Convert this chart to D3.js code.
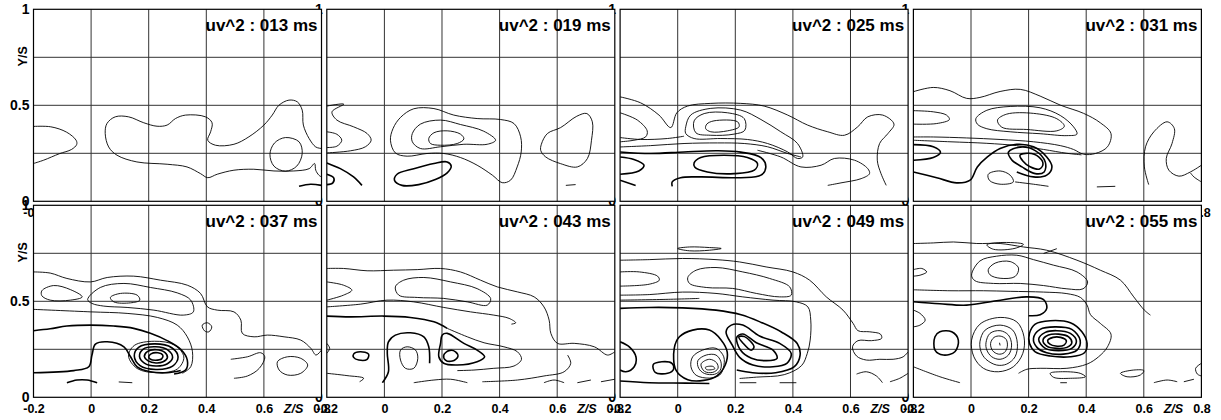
<!DOCTYPE html>
<html>
<head>
<meta charset="utf-8">
<script src="https://cdn.jsdelivr.net/npm/d3@7"></script>
<style>
  body { margin: 0; background: #fff; }
  svg { display: block; }
</style>
</head>
<body>
<svg id="chart" width="1221" height="420"></svg>
<script>
// Snapshot times (ms) of the uv^2 fields, in panel order
const times = ["013", "019", "025", "031", "037", "043", "049", "055"];
const xTicks = [-0.2, 0, 0.2, 0.4, 0.6, 0.8];
const yTicks = [0, 0.5, 1];
const xGrid = [0, 0.2, 0.4, 0.6];
const yGrid = [0.25, 0.5, 0.75];

// Contour lines of each snapshot in (Z/S, Y/S).
// k: "n" = lower iso-level, "s" = higher iso-level; c: 1 = closed loop
const c013 = [
  {k:"n",c:0,p:[[-0.2,0.39],[-0.14,0.388],[-0.085,0.36],[-0.052,0.318],[-0.05,0.296],[-0.068,0.27],[-0.11,0.248],[-0.165,0.214],[-0.2,0.197]]},
  {k:"n",c:0,p:[[0.8,0.275],[0.78,0.283],[0.757,0.327],[0.737,0.397],[0.733,0.475],[0.716,0.518],[0.687,0.527],[0.652,0.5],[0.629,0.449],[0.6,0.397],[0.548,0.336],[0.496,0.297],[0.432,0.292],[0.405,0.318],[0.415,0.362],[0.42,0.409],[0.397,0.44],[0.328,0.449],[0.293,0.431],[0.264,0.397],[0.229,0.391],[0.183,0.409],[0.13,0.44],[0.084,0.44],[0.055,0.405],[0.049,0.353],[0.061,0.283],[0.09,0.24],[0.159,0.205],[0.264,0.193],[0.333,0.179],[0.38,0.144],[0.405,0.123],[0.438,0.141],[0.496,0.162],[0.565,0.167],[0.635,0.158],[0.704,0.158],[0.757,0.17],[0.776,0.197],[0.78,0.162],[0.791,0.136],[0.8,0.127]]},
  {k:"n",c:1,p:[[0.675,0.332],[0.722,0.31],[0.733,0.249],[0.714,0.183],[0.675,0.157],[0.635,0.183],[0.621,0.245],[0.637,0.304]]},
  {k:"s",c:0,p:[[0.722,0.078],[0.762,0.089],[0.8,0.083]]}
];
const c019 = [
  {k:"n",c:0,p:[[-0.2,0.496],[-0.141,0.506],[-0.182,0.466],[-0.165,0.423],[-0.107,0.388],[-0.06,0.353],[-0.046,0.318],[-0.066,0.284],[-0.118,0.263],[-0.2,0.252]]},
  {k:"n",c:0,p:[[-0.2,0.362],[-0.165,0.349],[-0.148,0.318],[-0.165,0.287],[-0.2,0.28]]},
  {k:"s",c:0,p:[[-0.2,0.2],[-0.153,0.17],[-0.107,0.127],[-0.078,0.083]]},
  {k:"s",c:0,p:[[-0.2,0.141],[-0.176,0.122],[-0.179,0.096],[-0.2,0.087]]},
  {k:"n",c:1,p:[[0.021,0.318],[0.03,0.379],[0.056,0.437],[0.102,0.482],[0.172,0.483],[0.241,0.449],[0.322,0.431],[0.403,0.426],[0.45,0.405],[0.473,0.336],[0.475,0.257],[0.461,0.179],[0.438,0.11],[0.409,0.097],[0.375,0.136],[0.322,0.188],[0.264,0.228],[0.206,0.249],[0.148,0.249],[0.079,0.235],[0.038,0.252]]},
  {k:"n",c:1,p:[[0.097,0.353],[0.125,0.402],[0.195,0.423],[0.264,0.4],[0.345,0.365],[0.386,0.318],[0.357,0.297],[0.276,0.297],[0.195,0.284],[0.125,0.275],[0.097,0.31]]},
  {k:"n",c:1,p:[[0.154,0.327],[0.172,0.357],[0.218,0.367],[0.264,0.35],[0.276,0.325],[0.253,0.301],[0.195,0.292],[0.16,0.301]]},
  {k:"n",c:1,p:[[0.545,0.297],[0.566,0.353],[0.612,0.384],[0.668,0.443],[0.703,0.457],[0.722,0.414],[0.719,0.318],[0.705,0.223],[0.67,0.179],[0.612,0.196],[0.56,0.231],[0.543,0.264]]},
  {k:"s",c:1,p:[[0.035,0.11],[0.044,0.141],[0.102,0.17],[0.172,0.197],[0.218,0.205],[0.232,0.183],[0.218,0.148],[0.177,0.113],[0.119,0.087],[0.061,0.083]]},
  {k:"n",c:0,p:[[0.63,0.083],[0.664,0.087]]}
];
const c025 = [
  {k:"n",c:0,p:[[-0.2,0.544],[-0.129,0.513],[-0.065,0.449],[-0.024,0.384],[-0.003,0.461],[0.034,0.496],[0.115,0.51],[0.219,0.51],[0.3,0.496],[0.382,0.449],[0.451,0.397],[0.521,0.362],[0.579,0.344],[0.625,0.388],[0.66,0.44],[0.712,0.449],[0.751,0.402],[0.73,0.353],[0.701,0.301],[0.693,0.214],[0.706,0.144],[0.724,0.083]]},
  {k:"n",c:0,p:[[0.277,0.266],[0.358,0.231],[0.428,0.179],[0.498,0.188],[0.544,0.223],[0.614,0.214],[0.66,0.17],[0.666,0.144],[0.637,0.118],[0.567,0.096],[0.521,0.083]]},
  {k:"n",c:0,p:[[-0.2,0.461],[-0.14,0.423],[-0.106,0.367],[-0.111,0.336],[-0.152,0.318],[-0.2,0.31]]},
  {k:"n",c:1,p:[[0.028,0.388],[0.045,0.449],[0.115,0.484],[0.219,0.475],[0.289,0.426],[0.358,0.362],[0.416,0.301],[0.434,0.231],[0.416,0.223],[0.382,0.257],[0.312,0.301],[0.242,0.322],[0.15,0.327],[0.057,0.327],[0.028,0.353]]},
  {k:"n",c:1,p:[[0.057,0.419],[0.092,0.457],[0.173,0.461],[0.231,0.431],[0.233,0.37],[0.196,0.35],[0.115,0.344],[0.063,0.357]]},
  {k:"n",c:1,p:[[0.101,0.402],[0.126,0.419],[0.208,0.414],[0.213,0.388],[0.173,0.367],[0.115,0.362],[0.097,0.379]]},
  {k:"n",c:0,p:[[-0.2,0.283],[-0.094,0.29],[0.022,0.301],[0.138,0.304],[0.231,0.301],[0.312,0.284],[0.382,0.249],[0.428,0.231]]},
  {k:"n",c:0,p:[[-0.2,0.332],[-0.129,0.322],[-0.036,0.327],[0.022,0.339]]},
  {k:"s",c:0,p:[[-0.2,0.257],[-0.094,0.249],[0.022,0.257],[0.138,0.263],[0.219,0.256],[0.289,0.228],[0.306,0.179],[0.289,0.136],[0.219,0.123],[0.08,0.127],[0.01,0.123],[-0.019,0.101],[-0.019,0.078]]},
  {k:"s",c:1,p:[[0.057,0.2],[0.08,0.228],[0.161,0.24],[0.242,0.228],[0.277,0.197],[0.266,0.162],[0.196,0.144],[0.103,0.153],[0.059,0.179]]},
  {k:"s",c:0,p:[[-0.2,0.231],[-0.152,0.218],[-0.117,0.188],[-0.135,0.158],[-0.2,0.141]]},
  {k:"s",c:0,p:[[-0.2,0.11],[-0.146,0.082]]}
];
const c031 = [
  {k:"n",c:0,p:[[-0.2,0.571],[-0.131,0.593],[-0.073,0.576],[-0.015,0.536],[0.031,0.541],[0.101,0.572],[0.171,0.583],[0.24,0.548],[0.31,0.501],[0.391,0.458],[0.449,0.409],[0.486,0.353],[0.474,0.284],[0.432,0.249],[0.391,0.245],[0.356,0.27],[0.31,0.29],[0.217,0.31],[0.101,0.322],[-0.015,0.33],[-0.131,0.335],[-0.2,0.335]]},
  {k:"n",c:1,p:[[0.017,0.431],[0.055,0.474],[0.136,0.494],[0.24,0.487],[0.31,0.447],[0.356,0.388],[0.368,0.35],[0.333,0.342],[0.24,0.352],[0.136,0.362],[0.055,0.378],[0.022,0.402]]},
  {k:"n",c:1,p:[[0.092,0.423],[0.124,0.454],[0.217,0.458],[0.298,0.43],[0.324,0.391],[0.298,0.367],[0.194,0.374],[0.107,0.386]]},
  {k:"n",c:0,p:[[-0.2,0.472],[-0.131,0.466],[-0.085,0.449],[-0.075,0.426],[-0.119,0.405],[-0.2,0.402]]},
  {k:"n",c:0,p:[[-0.2,0.318],[-0.073,0.31],[0.055,0.302],[0.159,0.29],[0.252,0.27],[0.333,0.25],[0.384,0.242]]},
  {k:"s",c:0,p:[[-0.2,0.295],[-0.131,0.284],[-0.106,0.255],[-0.131,0.228],[-0.2,0.214]]},
  {k:"s",c:0,p:[[-0.2,0.153],[-0.119,0.123],[-0.05,0.096],[-0.003,0.11],[0.022,0.179],[0.057,0.231],[0.101,0.275],[0.159,0.297],[0.217,0.284],[0.263,0.231],[0.281,0.179],[0.263,0.136],[0.217,0.127],[0.159,0.153]]},
  {k:"s",c:1,p:[[0.13,0.256],[0.171,0.282],[0.223,0.264],[0.258,0.204],[0.254,0.153],[0.223,0.144],[0.177,0.179],[0.141,0.217]]},
  {k:"s",c:1,p:[[0.17,0.24],[0.2,0.25],[0.235,0.232],[0.25,0.195],[0.238,0.168],[0.205,0.18],[0.18,0.21]]},
  {k:"n",c:1,p:[[0.06,0.141],[0.101,0.158],[0.136,0.136],[0.147,0.101],[0.101,0.089],[0.064,0.109]]},
  {k:"n",c:0,p:[[0.153,0.101],[0.217,0.089],[0.269,0.078]]},
  {k:"n",c:0,p:[[0.437,0.075],[0.501,0.078]]},
  {k:"n",c:0,p:[[0.617,0.087],[0.602,0.179],[0.606,0.284],[0.635,0.362],[0.681,0.414],[0.706,0.379],[0.698,0.301],[0.678,0.223],[0.687,0.162],[0.722,0.131],[0.762,0.153],[0.8,0.188]]},
  {k:"n",c:0,p:[[0.8,0.101],[0.774,0.127],[0.762,0.148]]}
];
const c037 = [
  {k:"n",c:0,p:[[-0.2,0.653],[-0.142,0.647],[-0.084,0.619],[-0.002,0.601],[0.056,0.624],[0.148,0.631],[0.241,0.61],[0.334,0.584],[0.38,0.541],[0.404,0.471],[0.438,0.454],[0.496,0.445],[0.52,0.402],[0.525,0.333],[0.566,0.315],[0.612,0.324],[0.67,0.315],[0.728,0.298],[0.763,0.255],[0.781,0.22],[0.8,0.246]]},
  {k:"n",c:1,p:[[-0.171,0.555],[-0.13,0.582],[-0.072,0.561],[-0.031,0.523],[-0.072,0.506],[-0.142,0.506],[-0.171,0.529]]},
  {k:"n",c:1,p:[[0.067,0.52],[0.102,0.541],[0.16,0.532],[0.169,0.506],[0.137,0.492],[0.079,0.497]]},
  {k:"n",c:1,p:[[-0.012,0.509],[0.032,0.572],[0.114,0.593],[0.206,0.572],[0.299,0.544],[0.346,0.506],[0.355,0.445],[0.32,0.428],[0.218,0.454],[0.125,0.468],[0.044,0.475],[0.003,0.489]]},
  {k:"n",c:0,p:[[-0.2,0.458],[-0.002,0.445],[0.125,0.437],[0.23,0.416],[0.299,0.376],[0.334,0.315],[0.352,0.237],[0.346,0.159],[0.317,0.125]]},
  {k:"s",c:0,p:[[-0.2,0.347],[-0.142,0.357],[-0.084,0.371],[-0.002,0.376],[0.079,0.371],[0.148,0.359],[0.206,0.333],[0.264,0.295],[0.311,0.25],[0.334,0.194],[0.328,0.142],[0.288,0.121]]},
  {k:"s",c:0,p:[[-0.2,0.128],[-0.06,0.139],[-0.008,0.159],[0.003,0.22],[0.015,0.277],[0.056,0.289],[0.114,0.263],[0.137,0.211],[0.16,0.159],[0.206,0.133],[0.264,0.128],[0.311,0.14]]},
  {k:"n",c:1,p:[[0.13,0.215],[0.15,0.27],[0.22,0.292],[0.29,0.272],[0.322,0.21],[0.3,0.148],[0.23,0.128],[0.16,0.15]]},
  {k:"s",c:1,p:[[0.15,0.215],[0.165,0.26],[0.222,0.278],[0.28,0.258],[0.302,0.21],[0.283,0.162],[0.225,0.145],[0.17,0.165]]},
  {k:"s",c:1,p:[[0.168,0.213],[0.18,0.25],[0.224,0.263],[0.267,0.246],[0.283,0.208],[0.265,0.175],[0.225,0.163],[0.185,0.178]]},
  {k:"s",c:1,p:[[0.185,0.212],[0.195,0.238],[0.226,0.248],[0.256,0.234],[0.265,0.207],[0.25,0.185],[0.225,0.179],[0.198,0.19]]},
  {k:"s",c:1,p:[[0.2,0.21],[0.208,0.226],[0.232,0.232],[0.249,0.219],[0.245,0.2],[0.224,0.193],[0.206,0.198]]},
  {k:"n",c:1,p:[[0.386,0.376],[0.404,0.388],[0.419,0.367],[0.409,0.341],[0.394,0.346]]},
  {k:"n",c:1,p:[[0.647,0.185],[0.682,0.211],[0.728,0.203],[0.752,0.168],[0.728,0.125],[0.682,0.116],[0.653,0.142]]},
  {k:"n",c:0,p:[[0.485,0.198],[0.543,0.211],[0.589,0.232],[0.603,0.211],[0.584,0.151],[0.543,0.111],[0.496,0.099]]},
  {k:"s",c:0,p:[[-0.084,0.076],[-0.049,0.09],[-0.014,0.09],[0.021,0.076]]},
  {k:"n",c:0,p:[[0.096,0.08],[0.143,0.076]]}
];
const c043 = [
  {k:"n",c:0,p:[[-0.2,0.671],[-0.142,0.671],[-0.06,0.659],[0.032,0.662],[0.114,0.665],[0.195,0.671],[0.264,0.653],[0.334,0.61],[0.392,0.575],[0.462,0.549],[0.52,0.523],[0.554,0.471],[0.572,0.402],[0.578,0.333],[0.601,0.281],[0.659,0.281],[0.729,0.263],[0.775,0.22],[0.8,0.237]]},
  {k:"n",c:0,p:[[-0.2,0.601],[-0.142,0.584],[-0.113,0.558],[-0.142,0.532],[-0.2,0.506]]},
  {k:"n",c:1,p:[[0.038,0.575],[0.067,0.61],[0.137,0.624],[0.23,0.601],[0.322,0.566],[0.369,0.514],[0.357,0.48],[0.288,0.497],[0.206,0.515],[0.114,0.52],[0.05,0.532]]},
  {k:"n",c:0,p:[[-0.2,0.471],[-0.084,0.485],[0.009,0.506],[0.102,0.497],[0.206,0.468],[0.299,0.445],[0.38,0.428],[0.433,0.411],[0.456,0.388],[0.441,0.381]]},
  {k:"s",c:0,p:[[-0.2,0.423],[-0.118,0.419],[-0.002,0.423],[0.09,0.416],[0.172,0.393],[0.218,0.359]]},
  {k:"n",c:0,p:[[0.218,0.359],[0.288,0.315],[0.346,0.284],[0.415,0.263],[0.462,0.237],[0.476,0.198],[0.45,0.163],[0.38,0.151],[0.311,0.142],[0.253,0.139]]},
  {k:"s",c:0,p:[[-0.007,0.076],[0.014,0.133],[0.01,0.229],[0.014,0.289],[0.038,0.324],[0.09,0.336],[0.137,0.315],[0.154,0.263],[0.157,0.177]]},
  {k:"s",c:1,p:[[0.201,0.324],[0.218,0.333],[0.276,0.281],[0.322,0.246],[0.348,0.211],[0.322,0.185],[0.253,0.168],[0.206,0.177],[0.189,0.211],[0.195,0.281]]},
  {k:"s",c:1,p:[[0.206,0.219],[0.224,0.243],[0.247,0.237],[0.255,0.211],[0.236,0.189],[0.212,0.194]]},
  {k:"s",c:1,p:[[-0.107,0.225],[-0.084,0.237],[-0.055,0.225],[-0.06,0.198],[-0.089,0.194],[-0.107,0.208]]},
  {k:"n",c:1,p:[[0.056,0.246],[0.079,0.263],[0.108,0.246],[0.116,0.203],[0.102,0.151],[0.073,0.151],[0.056,0.194]]},
  {k:"n",c:0,p:[[-0.2,0.281],[-0.19,0.255],[-0.2,0.229]]},
  {k:"n",c:0,p:[[-0.2,0.125],[-0.13,0.113],[-0.072,0.099],[-0.086,0.081]]},
  {k:"n",c:0,p:[[0.102,0.076],[0.172,0.09],[0.23,0.094],[0.288,0.076]]},
  {k:"n",c:0,p:[[0.34,0.081],[0.462,0.09],[0.554,0.111],[0.624,0.133],[0.647,0.177],[0.636,0.22]]},
  {k:"n",c:0,p:[[0.554,0.076],[0.589,0.09],[0.624,0.076]]},
  {k:"n",c:0,p:[[0.67,0.076],[0.717,0.09]]},
  {k:"n",c:0,p:[[0.752,0.081],[0.8,0.094]]}
];
const c049 = [
  {k:"n",c:1,p:[[0,0.775],[0.041,0.783],[0.11,0.78],[0.151,0.775],[0.11,0.766],[0.041,0.763]]},
  {k:"n",c:0,p:[[-0.2,0.714],[-0.099,0.717],[0.017,0.723],[0.133,0.717],[0.215,0.705],[0.307,0.679],[0.4,0.653],[0.458,0.61],[0.516,0.523],[0.574,0.454],[0.609,0.385],[0.626,0.347],[0.667,0.341],[0.704,0.329],[0.708,0.307],[0.673,0.295],[0.626,0.295],[0.607,0.263],[0.621,0.215],[0.655,0.194],[0.702,0.198],[0.748,0.198],[0.783,0.211],[0.8,0.237]]},
  {k:"n",c:0,p:[[-0.2,0.653],[-0.133,0.653],[-0.07,0.631],[-0.064,0.61],[-0.099,0.589],[-0.2,0.579]]},
  {k:"n",c:1,p:[[0.035,0.624],[0.064,0.662],[0.133,0.676],[0.226,0.653],[0.319,0.619],[0.389,0.575],[0.394,0.532],[0.354,0.523],[0.273,0.541],[0.191,0.567],[0.099,0.572],[0.041,0.593]]},
  {k:"n",c:0,p:[[-0.2,0.532],[-0.099,0.535],[0.017,0.548],[0.133,0.541],[0.226,0.523],[0.331,0.506],[0.412,0.497],[0.452,0.471],[0.462,0.402],[0.46,0.298],[0.45,0.229],[0.43,0.165],[0.37,0.118],[0.273,0.105],[0.215,0.098]]},
  {k:"n",c:0,p:[[-0.2,0.506],[-0.041,0.51],[0.075,0.515]]},
  {k:"s",c:0,p:[[-0.2,0.463],[-0.099,0.468],[0.017,0.466],[0.133,0.454],[0.22,0.43],[0.29,0.39],[0.36,0.34],[0.415,0.28],[0.425,0.22],[0.405,0.16],[0.34,0.128],[0.26,0.128],[0.205,0.142]]},
  {k:"s",c:1,p:[[0.168,0.341],[0.186,0.376],[0.226,0.376],[0.284,0.319],[0.354,0.281],[0.394,0.229],[0.379,0.177],[0.331,0.159],[0.261,0.168],[0.215,0.208],[0.19,0.27]]},
  {k:"s",c:1,p:[[0.205,0.312],[0.226,0.33],[0.273,0.284],[0.331,0.246],[0.345,0.203],[0.308,0.191],[0.256,0.203],[0.218,0.246]]},
  {k:"s",c:1,p:[[0.212,0.315],[0.232,0.316],[0.265,0.263],[0.255,0.245],[0.228,0.28]]},
  {k:"s",c:1,p:[[-0.012,0.255],[0.006,0.315],[0.052,0.35],[0.11,0.35],[0.15,0.3],[0.172,0.235],[0.165,0.168],[0.135,0.11],[0.09,0.088],[0.035,0.092],[-0.006,0.142]]},
  {k:"n",c:1,p:[[0.052,0.211],[0.087,0.246],[0.133,0.255],[0.16,0.211],[0.158,0.151],[0.145,0.115],[0.11,0.1],[0.064,0.115],[0.046,0.159]]},
  {k:"n",c:1,p:[[0.07,0.191],[0.099,0.22],[0.133,0.22],[0.15,0.185],[0.148,0.142],[0.128,0.12],[0.093,0.124],[0.073,0.151]]},
  {k:"n",c:1,p:[[0.081,0.173],[0.11,0.198],[0.135,0.18],[0.14,0.151],[0.122,0.13],[0.093,0.135]]},
  {k:"n",c:1,p:[[0.096,0.156],[0.122,0.161],[0.129,0.149],[0.101,0.144]]},
  {k:"s",c:0,p:[[-0.2,0.289],[-0.168,0.263],[-0.145,0.211],[-0.151,0.159],[-0.18,0.133],[-0.2,0.142]]},
  {k:"s",c:1,p:[[-0.085,0.17],[-0.055,0.185],[-0.02,0.177],[-0.014,0.148],[-0.035,0.125],[-0.078,0.13]]},
  {k:"s",c:0,p:[[-0.2,0.085],[-0.099,0.076],[0.029,0.074],[0.11,0.072]]},
  {k:"n",c:0,p:[[0.215,0.076],[0.273,0.076]]},
  {k:"n",c:0,p:[[0.354,0.076],[0.412,0.076]]},
  {k:"n",c:0,p:[[0.621,0.121],[0.655,0.133],[0.69,0.111],[0.711,0.076]]},
  {k:"n",c:0,p:[[0.737,0.081],[0.771,0.099],[0.8,0.125]]}
];
const c055 = [
  {k:"n",c:0,p:[[-0.2,0.801],[-0.131,0.804],[-0.061,0.809],[0.02,0.801],[0.101,0.801],[0.182,0.783],[0.263,0.766],[0.368,0.714],[0.449,0.662],[0.519,0.61],[0.565,0.523],[0.602,0.454],[0.623,0.428]]},
  {k:"n",c:1,p:[[0.055,0.794],[0.101,0.806],[0.182,0.797],[0.153,0.776],[0.078,0.771]]},
  {k:"n",c:0,p:[[0.252,0.749],[0.298,0.774]]},
  {k:"n",c:0,p:[[-0.2,0.665],[-0.171,0.671],[-0.154,0.653],[-0.177,0.636],[-0.2,0.631]]},
  {k:"n",c:1,p:[[0.002,0.636],[0.031,0.71],[0.089,0.735],[0.159,0.74],[0.217,0.717],[0.287,0.688],[0.368,0.653],[0.405,0.601],[0.389,0.565],[0.333,0.565],[0.252,0.582],[0.171,0.593],[0.078,0.593],[0.014,0.607]]},
  {k:"n",c:1,p:[[0.06,0.665],[0.084,0.699],[0.136,0.707],[0.165,0.673],[0.153,0.629],[0.101,0.62],[0.066,0.638]]},
  {k:"n",c:0,p:[[-0.2,0.56],[-0.073,0.555],[0.043,0.555],[0.136,0.552],[0.252,0.548],[0.333,0.54],[0.38,0.52],[0.403,0.48],[0.415,0.43],[0.449,0.385],[0.486,0.329],[0.474,0.263],[0.443,0.211],[0.403,0.173],[0.333,0.151],[0.24,0.151],[0.194,0.146],[0.165,0.125]]},
  {k:"s",c:0,p:[[-0.2,0.498],[-0.108,0.487],[-0.015,0.48],[0.089,0.503],[0.194,0.523],[0.252,0.509],[0.263,0.463],[0.24,0.43],[0.2,0.425]]},
  {k:"n",c:0,p:[[-0.2,0.454],[-0.177,0.437],[-0.159,0.402],[-0.177,0.376],[-0.2,0.367]]},
  {k:"s",c:1,p:[[-0.125,0.315],[-0.108,0.341],[-0.067,0.341],[-0.044,0.298],[-0.056,0.237],[-0.096,0.22],[-0.125,0.246]]},
  {k:"n",c:1,p:[[0.002,0.298],[0.031,0.381],[0.101,0.416],[0.159,0.393],[0.184,0.315],[0.18,0.229],[0.147,0.159],[0.095,0.133],[0.043,0.151],[0.01,0.211]]},
  {k:"n",c:1,p:[[0.031,0.289],[0.049,0.35],[0.101,0.376],[0.145,0.35],[0.161,0.281],[0.153,0.211],[0.124,0.173],[0.089,0.168],[0.052,0.198],[0.035,0.237]]},
  {k:"n",c:1,p:[[0.052,0.284],[0.066,0.333],[0.101,0.347],[0.13,0.324],[0.141,0.272],[0.13,0.22],[0.101,0.198],[0.072,0.211],[0.055,0.246]]},
  {k:"n",c:1,p:[[0.068,0.281],[0.08,0.312],[0.101,0.319],[0.122,0.302],[0.126,0.263],[0.115,0.232],[0.095,0.225],[0.075,0.243]]},
  {k:"n",c:0,p:[[0.099,0.284],[0.101,0.27]]},
  {k:"s",c:1,p:[[0.203,0.333],[0.223,0.381],[0.275,0.399],[0.345,0.388],[0.385,0.341],[0.403,0.281],[0.394,0.232],[0.345,0.211],[0.275,0.215],[0.223,0.237],[0.203,0.281]]},
  {k:"s",c:1,p:[[0.217,0.307],[0.24,0.354],[0.292,0.367],[0.35,0.354],[0.379,0.298],[0.368,0.246],[0.321,0.225],[0.263,0.232],[0.229,0.26]]},
  {k:"s",c:1,p:[[0.235,0.302],[0.258,0.338],[0.298,0.347],[0.345,0.333],[0.366,0.293],[0.35,0.255],[0.304,0.243],[0.258,0.255]]},
  {k:"s",c:1,p:[[0.25,0.298],[0.269,0.324],[0.304,0.329],[0.339,0.315],[0.35,0.284],[0.333,0.26],[0.298,0.255],[0.263,0.267]]},
  {k:"s",c:1,p:[[0.266,0.295],[0.285,0.312],[0.311,0.312],[0.331,0.295],[0.323,0.272],[0.294,0.267],[0.274,0.277]]},
  {k:"n",c:0,p:[[-0.2,0.159],[-0.108,0.107],[-0.038,0.076]]},
  {k:"n",c:1,p:[[0.275,0.125],[0.31,0.133],[0.379,0.125],[0.397,0.107],[0.345,0.099],[0.287,0.104]]},
  {k:"n",c:1,p:[[0.519,0.125],[0.565,0.142],[0.6,0.139],[0.588,0.116],[0.542,0.107]]},
  {k:"n",c:0,p:[[0.8,0.177],[0.78,0.151],[0.786,0.121],[0.8,0.111]]},
  {k:"n",c:0,p:[[0.635,0.076],[0.681,0.09],[0.716,0.081]]},
  {k:"n",c:0,p:[[0.739,0.081],[0.774,0.094]]},
  {k:"n",c:0,p:[[0.31,0.076],[0.333,0.076]]}
];
const contourSets = [c013, c019, c025, c031, c037, c043, c049, c055];

const FONT = "'Liberation Sans', Arial, Helvetica, sans-serif";
const W = 288, H = 192;                  // plot box of one panel
const originX = 33.5, colStep = 293.3;   // panel placement
const rowTop = [9.3, 205.3];

const x = d3.scaleLinear().domain([-0.2, 0.8]).range([0, W]);
const y = d3.scaleLinear().domain([0, 1]).range([H, 0]);

const openLine = d3.line().x(d => x(d[0])).y(d => y(d[1])).curve(d3.curveCatmullRom.alpha(0.5));
const closedLine = d3.line().x(d => x(d[0])).y(d => y(d[1])).curve(d3.curveCatmullRomClosed.alpha(0.5));

const svg = d3.select("#chart");
// axis labels sit underneath the panel boxes; neighbouring boxes cover most of
// the inner panels' labels, so only the parts that stay in view are written
const labelLayer = svg.append("g");
const panelLayer = svg.append("g");

times.forEach((t, i) => {
  const col = i % 4, row = Math.floor(i / 4);
  const tx = originX + col * colStep;
  const ty = rowTop[row];

  // ---- axis labels
  const lab = labelLayer.append("g").attr("transform", `translate(${tx},${ty})`);
  const yVals = col === 0 ? yTicks : (row === 0 ? [0, 1] : [0]);
  const gy = lab.append("g")
    .call(d3.axisLeft(y).tickValues(yVals).tickSize(0).tickPadding(4).tickFormat(d => String(d)));
  gy.attr("font-family", FONT).attr("font-size", 14).attr("font-weight", "bold");
  gy.select(".domain").remove();
  gy.selectAll("line").remove();
  gy.selectAll("text").attr("fill", "#000");

  let xVals = xTicks;
  if (row === 0) xVals = col === 0 ? [xTicks[0]] : (col === 3 ? [xTicks[xTicks.length - 1]] : []);
  const gx = lab.append("g").attr("transform", `translate(0,${H})`)
    .call(d3.axisBottom(x).tickValues(xVals).tickSize(0).tickPadding(7).tickFormat(d => String(d)));
  gx.attr("font-family", FONT).attr("font-size", 12.5).attr("font-weight", "bold");
  gx.select(".domain").remove();
  gx.selectAll("line").remove();
  gx.selectAll("text").attr("fill", "#000");

  if (row === 1) {
    lab.append("text")
      .attr("x", x(0.703)).attr("y", H + 16)
      .attr("text-anchor", "middle")
      .attr("font-family", FONT).attr("font-size", 12.5)
      .attr("font-weight", "bold").attr("font-style", "italic")
      .text("Z/S");
  }
  if (col === 0) {
    lab.append("text")
      .attr("transform", `translate(-10.5,${y(0.755)}) rotate(-90)`)
      .attr("text-anchor", "middle").attr("dominant-baseline", "central")
      .attr("font-family", FONT).attr("font-size", 12.5).attr("font-weight", "bold")
      .text("Y/S");
  }

  // ---- panel box
  const p = panelLayer.append("g").attr("transform", `translate(${tx},${ty})`);
  p.append("clipPath").attr("id", "clip" + i)
    .append("rect").attr("width", W).attr("height", H);
  p.append("rect").attr("width", W).attr("height", H).attr("fill", "#fff");

  p.append("g").selectAll("line").data(xGrid).join("line")
    .attr("x1", d => x(d)).attr("x2", d => x(d))
    .attr("y1", 0).attr("y2", H)
    .attr("stroke", "#333").attr("stroke-width", 1);
  p.append("g").selectAll("line").data(yGrid).join("line")
    .attr("x1", 0).attr("x2", W)
    .attr("y1", d => y(d)).attr("y2", d => y(d))
    .attr("stroke", "#333").attr("stroke-width", 1);

  p.append("g").attr("clip-path", `url(#clip${i})`)
    .selectAll("path").data(contourSets[i]).join("path")
    .attr("d", d => (d.c ? closedLine : openLine)(d.p))
    .attr("fill", "none")
    .attr("stroke", "#000")
    .attr("stroke-width", d => d.k === "s" ? 1.6 : 0.9)
    .attr("stroke-linejoin", "round");

  p.append("rect").attr("width", W).attr("height", H)
    .attr("fill", "none").attr("stroke", "#000").attr("stroke-width", 1.2);

  p.append("text")
    .attr("x", W - 4).attr("y", 21.5)
    .attr("text-anchor", "end")
    .attr("font-family", FONT).attr("font-size", 17).attr("font-weight", "bold")
    .text(`uv^2 : ${t} ms`);
});
</script>
</body>
</html>
